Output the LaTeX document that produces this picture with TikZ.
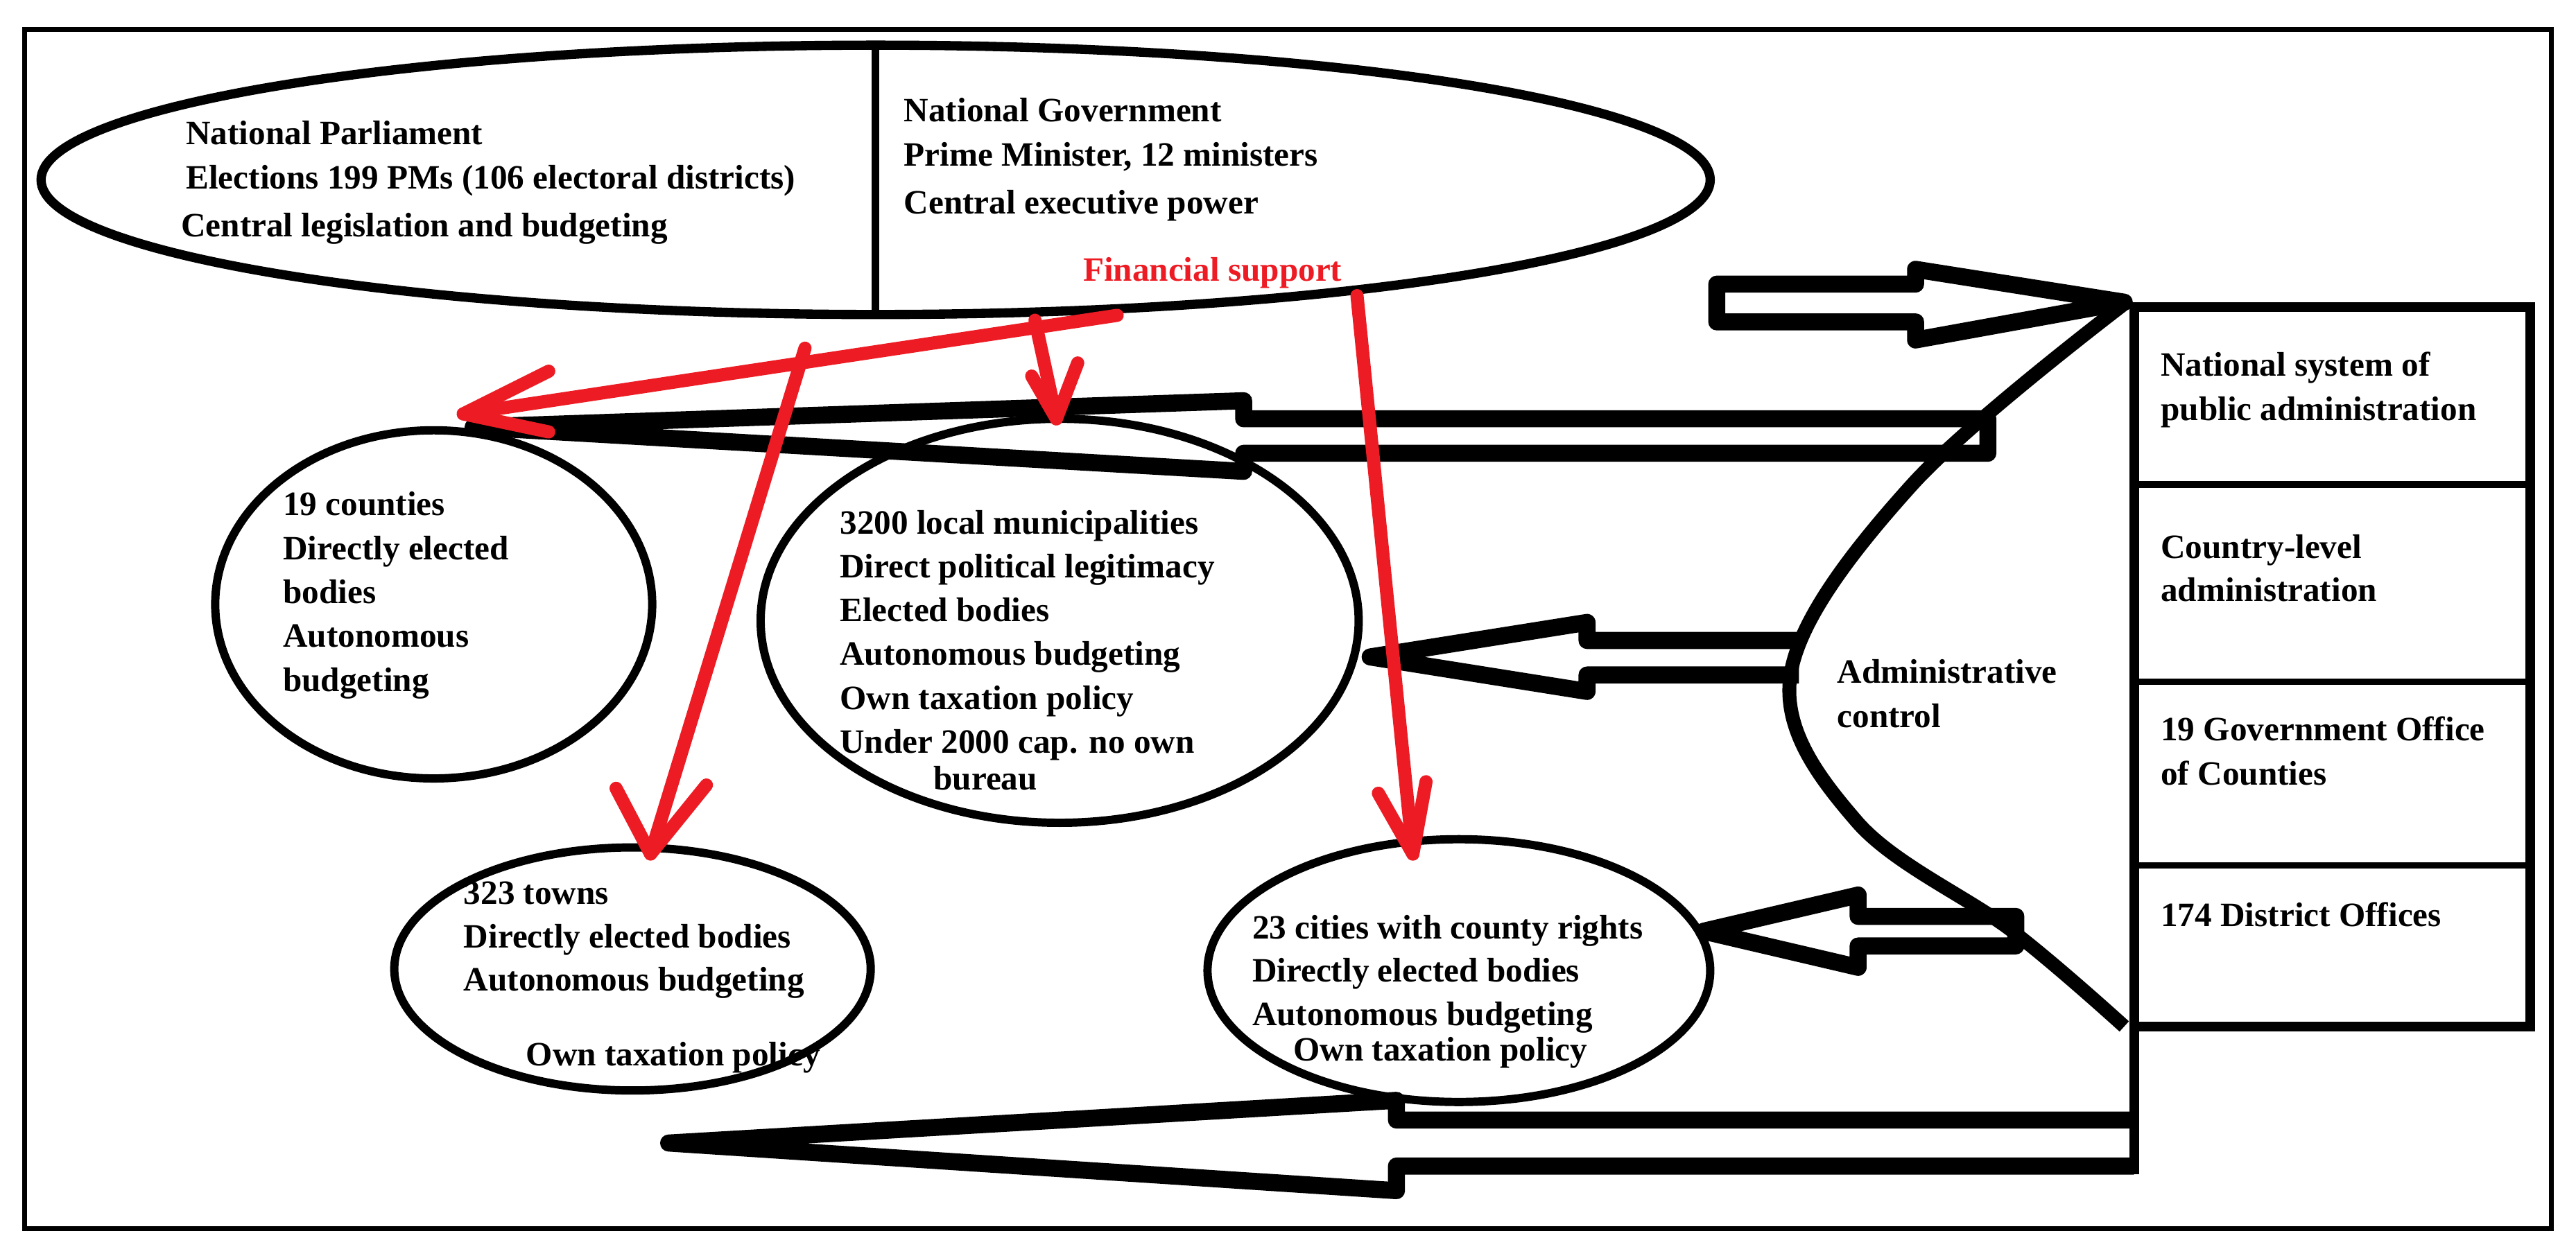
\documentclass[tikz,border=0pt]{standalone}
\usepackage{fontspec}
\setmainfont{Liberation Serif}
\begin{document}
\begin{tikzpicture}[x=0.2369mm,y=-0.2369mm,
  txt/.style={anchor=base west,inner sep=0pt,font=\fontsize{14}{17}\selectfont\bfseries},
  ell/.style={line width=3.4pt},
  blk/.style={line width=7pt,line join=round},
  red/.style={draw={rgb,255:red,237;green,28;blue,36},line width=5.4pt,line cap=round,line join=round}]
\useasboundingbox (0,0) rectangle (1568,764.5);
\draw[line width=2pt] (15,18) rectangle (1553,748);
% top ellipse
\draw[line width=3.8pt] (533,109.5) ellipse [x radius=508,y radius=82];
\draw[line width=3.2pt] (533,28) -- (533,191);
% lower ellipses
\draw[ell] (264,368) ellipse [x radius=133,y radius=106];
\draw[ell] (645,378) ellipse [x radius=182,y radius=123];
\draw[ell] (385,590) ellipse [x radius=145,y radius=74];
\draw[ell] (888,591) ellipse [x radius=153,y radius=80];
% right box
\draw[line width=4pt] (1299,187) rectangle (1540,625);
\draw[line width=4pt] (1299,625) -- (1299,715);
\foreach \yy in {295,415,527} \draw[line width=2.7pt] (1299,\yy) -- (1540,\yy);
% administrative control curve
\draw[line width=5.7pt] plot[smooth,tension=0.6] coordinates {(1293,185) (1164,295) (1090,410) (1130,500) (1225,567) (1293,625)};
% hollow arrows
\draw[blk] (1045,173) -- (1166,173) -- (1166,164) -- (1293,184) -- (1166,207) -- (1166,196) -- (1045,196) -- cycle;
\draw[blk] (1210,255) -- (757,255) -- (757,244) -- (288,260) -- (757,287) -- (757,276) -- (1210,276) -- cycle;
\draw[blk] (1095,390) -- (966,390) -- (966,379) -- (834,400) -- (966,421) -- (966,411) -- (1095,411);
\draw[blk] (1227,558) -- (1131,558) -- (1131,545) -- (1037,567) -- (1131,589) -- (1131,576) -- (1227,576) -- cycle;
\draw[blk] (1299,682) -- (850,682) -- (850,670) -- (407,696) -- (850,725) -- (850,710) -- (1299,710);
% red arrows
\draw[red] (680,192) -- (282,252);
\draw[red] (334,226) -- (282,252) -- (334,263);
\draw[red] (630,195) -- (643,255);
\draw[red] (628,229) -- (643,255) -- (656,221);
\draw[red] (490,212) -- (396,520);
\draw[red] (375,480) -- (396,520) -- (430,478);
\draw[red] (826,180) -- (860,520);
\draw[red] (839,483) -- (860,520) -- (868,476);
% texts
\node[txt] (np1) at (113,88) {National Parliament};
\node[txt] (np2) at (113,115) {Elections 199 PMs (106 electoral districts)};
\node[txt] (np3) at (110,144) {Central legislation and budgeting};
\node[txt] (ng1) at (550,74) {National Government};
\node[txt] (ng2) at (550,101) {Prime Minister, 12 ministers};
\node[txt] (ng3) at (550,130) {Central executive power};
\node[txt,text={rgb,255:red,237;green,28;blue,36}] (fs) at (659,171) {Financial support};
\foreach \t [count=\i] in {19 counties,Directly elected,bodies,Autonomous,budgeting}
  \node[txt] (c\i) at (172,287.3+26.7*\i) {\t};
\foreach \t [count=\i] in {3200 local municipalities,Direct political legitimacy,Elected bodies,Autonomous budgeting,Own taxation policy,Under 2000 cap. no own}
  \node[txt] (m\i) at (511,298.3+26.7*\i) {\t};
\node[txt] (m7) at (568,481) {bureau};
\foreach \t [count=\i] in {323 towns,Directly elected bodies,Autonomous budgeting}
  \node[txt] (t\i) at (282,524+26.5*\i) {\t};
\node[txt] (t4) at (320,649) {Own taxation policy};
\foreach \t [count=\i] in {23 cities with county rights,Directly elected bodies,Autonomous budgeting}
  \node[txt] (k\i) at (762,545+26.5*\i) {\t};
\node[txt] (k4) at (787,646) {Own taxation policy};
\node[txt] (b1) at (1315,229) {National system of};
\node[txt] (b2) at (1315,256) {public administration};
\node[txt] (b3) at (1315,340) {Country-level};
\node[txt] (b4) at (1315,366) {administration};
\node[txt] (b5) at (1315,451) {19 Government Office};
\node[txt] (b6) at (1315,478) {of Counties};
\node[txt] (b7) at (1315,564) {174 District Offices};
\node[txt] (ac1) at (1118,416) {Administrative};
\node[txt] (ac2) at (1118,443) {control};
\end{tikzpicture}
\end{document}
